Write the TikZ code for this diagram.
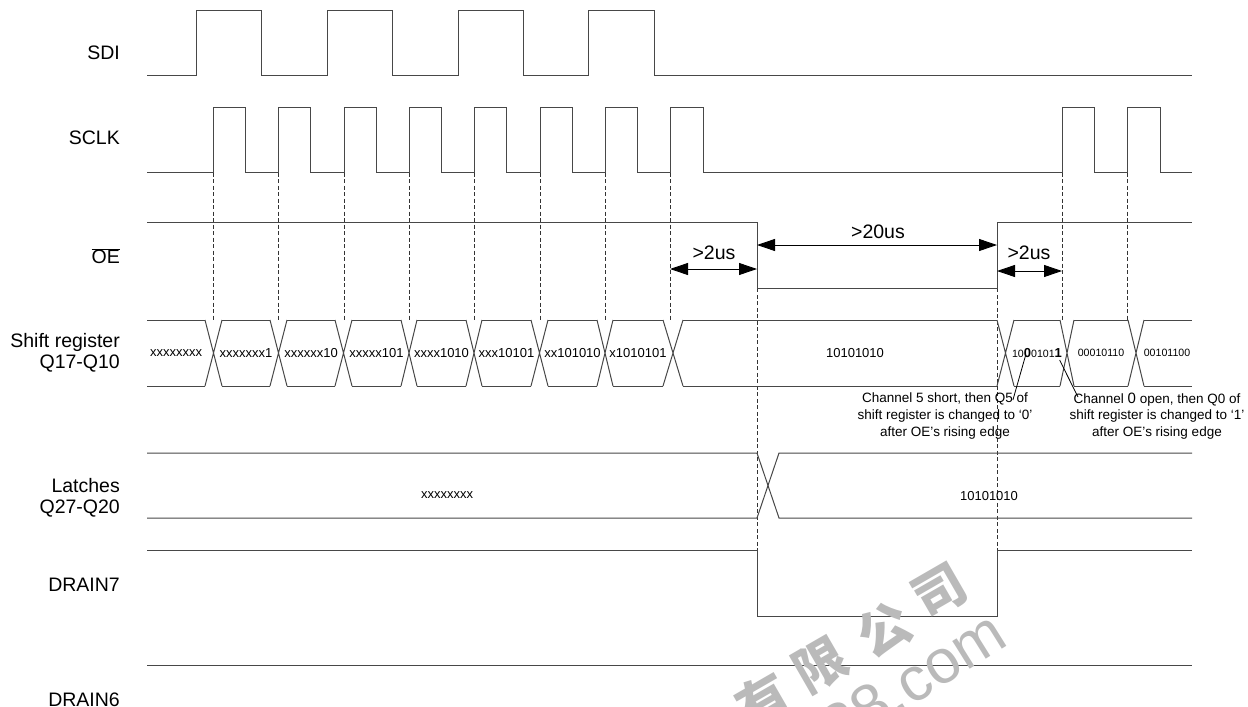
\documentclass[tikz,border=0pt]{standalone}
\usepackage{fontspec}
\setmainfont{Liberation Sans}
\newfontfamily\cjkwm{Noto Sans CJK SC}
\usetikzlibrary{arrows.meta}
\begin{document}
\begin{tikzpicture}[x=1pt,y=-1pt,
  wave/.style={line width=1pt, draw=black!72},
  guide/.style={line width=0.6pt, draw=black!80, dash pattern=on 4pt off 2.5pt},
  siglabel/.style={anchor=east, align=right, font=\fontsize{19.5}{21}\selectfont, inner sep=0pt},
  bus/.style={font=\fontsize{13}{15}\selectfont, inner sep=0pt},
  smallbus/.style={font=\fontsize{10.6}{12}\selectfont, inner sep=0pt},
  note/.style={font=\fontsize{13.5}{16.8}\selectfont, align=center, inner sep=0pt},
  timelabel/.style={font=\fontsize{19.5}{21}\selectfont, inner sep=0pt},
  timing/.style={line width=0.9pt, {Triangle[length=18pt,width=12pt]}-{Triangle[length=18pt,width=12pt]}},
  pointer/.style={line width=0.8pt, draw=black},
  wm/.style={text=black!27, inner sep=0pt},
  wmcjk/.style={wm, rotate=30, font=\cjkwm\bfseries\fontsize{52}{52}\selectfont}
]
\useasboundingbox (0,0) rectangle (1248,707);

% ---------- signal names ----------
\node[siglabel] (lsdi)  at (120,53)  {SDI};
\node[siglabel] (lsclk) at (120,138) {SCLK};
\node[siglabel] (loe)   at (120,256) {$\overline{\mbox{OE}}$};
\node[siglabel] (lsr)   at (120,352.5) {Shift register\\Q17-Q10};
\node[siglabel] (llat)  at (120,498) {Latches\\Q27-Q20};
\node[siglabel] (ld7)   at (120,585) {DRAIN7};
\node[siglabel] (ld6)   at (120,700) {DRAIN6};

% ---------- dashed guide lines ----------
\foreach \r in {213,278,344,409,474,540,605,670,1062,1127}
  \draw[guide] (\r,172.7) -- (\r,320);
\draw[guide] (757,288.3) -- (757,550);
\draw[guide] (997,288.3) -- (997,550);

% ---------- SDI ----------
\draw[wave] (147,75) -- (196,75) -- (196,10) -- (261,10) -- (261,75)
  -- (327,75) -- (327,10) -- (392,10) -- (392,75)
  -- (458,75) -- (458,10) -- (523,10) -- (523,75)
  -- (588,75) -- (588,10) -- (654,10) -- (654,75) -- (1192,75);

% ---------- SCLK ----------
\draw[wave] (147,172.7)
  -- (213,172.7) -- (213,107.3) -- (245,107.3) -- (245,172.7)
  -- (278,172.7) -- (278,107.3) -- (310,107.3) -- (310,172.7)
  -- (344,172.7) -- (344,107.3) -- (376,107.3) -- (376,172.7)
  -- (409,172.7) -- (409,107.3) -- (441,107.3) -- (441,172.7)
  -- (474,172.7) -- (474,107.3) -- (506,107.3) -- (506,172.7)
  -- (540,172.7) -- (540,107.3) -- (572,107.3) -- (572,172.7)
  -- (605,172.7) -- (605,107.3) -- (637,107.3) -- (637,172.7)
  -- (670,172.7) -- (670,107.3) -- (703,107.3) -- (703,172.7)
  -- (1062,172.7) -- (1062,107.3) -- (1094,107.3) -- (1094,172.7)
  -- (1127,172.7) -- (1127,107.3) -- (1160,107.3) -- (1160,172.7)
  -- (1192,172.7);

% ---------- OE ----------
\draw[wave] (147,222.7) -- (757,222.7) -- (757,288.3) -- (997,288.3)
  -- (997,222.7) -- (1192,222.7);

% ---------- timing arrows ----------
\coordinate (t8) at (670,269);
\coordinate (oef1) at (757,269);
\coordinate (oef2) at (757,245);
\coordinate (oer2) at (997,245);
\coordinate (oer1) at (997,271);
\coordinate (t9) at (1062,271);
\draw[timing] (t8) -- (oef1);
\draw[timing] (oef2) -- (oer2);
\draw[timing] (oer1) -- (t9);
\node[timelabel] (d1) at (714,253) {>2us};
\node[timelabel] (d2) at (878,232) {>20us};
\node[timelabel] (d3) at (1029,253) {>2us};

% ---------- shift register bus ----------
\foreach \a/\b in {205/222,270/287,335/352,401/417,466/482,531/548,597/613,663/683,997/1014,1060/1074,1128/1144}
  \draw[wave] (\a,320) -- (\b,386) (\a,386) -- (\b,320);
\foreach \s/\e in {147/205,222/270,287/335,352/401,417/466,482/531,548/597,613/663,683/997,1014/1060,1074/1128,1144/1192}
  \draw[wave] (\s,320) -- (\e,320) (\s,386) -- (\e,386);

\node[bus] (s0) at (176,353) {xxxxxxxx};
\node[bus] (s1) at (246,353) {xxxxxxx1};
\node[bus] (s2) at (311,353) {xxxxxx10};
\node[bus] (s3) at (376.5,353) {xxxxx101};
\node[bus] (s4) at (441.5,353) {xxxx1010};
\node[bus] (s5) at (506.5,353) {xxx10101};
\node[bus] (s6) at (572.5,353) {xx101010};
\node[bus] (s7) at (638,353) {x1010101};
\node[bus] (s8) at (855,353) {10101010};
\node[smallbus] (s9) at (1037,353) {10{\fontsize{13}{13}\selectfont\bfseries 0}0101{\fontsize{13}{13}\selectfont\bfseries 1}};
\node[smallbus] (s10) at (1101,353) {00010110};
\node[smallbus] (s11) at (1167,353) {00101100};

% ---------- annotations ----------
\node[note] (n1) at (945,416) {Channel 5 short, then Q5 of\\shift register is changed to ‘0’\\after OE’s rising edge};
\node[note] (n2) at (1157,416) {Channel {\fontsize{15}{15}\selectfont 0} open, then Q0 of\\shift register is changed to ‘1’\\after OE’s rising edge};
\draw[pointer] (1025.7,355) -- (1012.9,400);
\draw[pointer] (1059.6,360) -- (1078,397);

% ---------- latches bus ----------
\draw[wave] (147,453) -- (757,453) -- (779,518) -- (1192,518);
\draw[wave] (147,518) -- (757,518) -- (779,453) -- (1192,453);
\node[bus] (l0) at (447,495) {xxxxxxxx};
\node[bus] (l1) at (989,496) {10101010};

% ---------- DRAIN7 / DRAIN6 ----------
\draw[wave] (147,550) -- (757,550) -- (757,616) -- (997,616) -- (997,550) -- (1192,550);
\draw[wave] (147,665) -- (1192,665);

% ---------- watermark ----------
\node[wmcjk] (w1) at (763,700) {有};
\node[wmcjk] (w2) at (821,665) {限};
\node[wmcjk] (w3) at (884,630) {公};
\node[wmcjk] (w4) at (940,592) {司};
\node[wm, rotate=32, font=\fontsize{62}{62}\selectfont] (w5) at (913,680) {88.com};
\end{tikzpicture}
\end{document}
